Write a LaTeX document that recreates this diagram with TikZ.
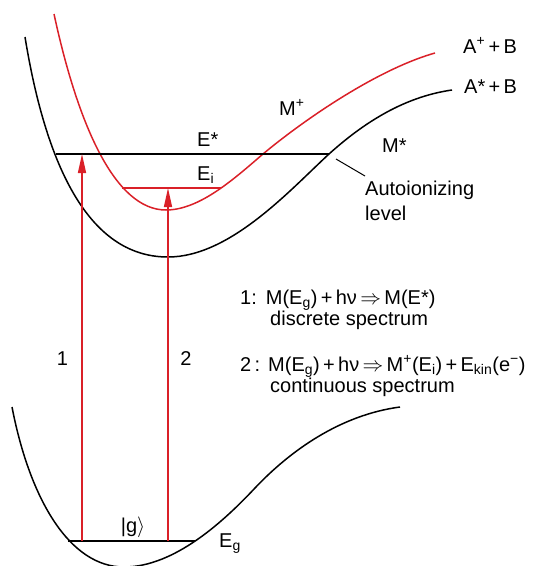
\documentclass[tikz,border=0pt]{standalone}
\usepackage{fontspec}
\setmainfont{Liberation Sans}
\usetikzlibrary{arrows.meta}
\definecolor{myred}{RGB}{218,32,40}
\begin{document}
\begin{tikzpicture}[x=1pt,y=-1pt,
  curve/.style={line width=1.5pt, line join=round},
  redc/.style={curve, myred},
  level/.style={line width=1.4pt},
  txt/.style={font=\fontsize{20}{24}\selectfont, inner sep=0pt},
  uparrow/.style={myred, line width=1.4pt, -{Triangle[length=19pt,width=8pt]}}]
\useasboundingbox (0,0) rectangle (551,566);
% M* curve
\draw[curve] (25,37) .. controls (50,190) and (100,257) .. (168,257)
  .. controls (230,257) and (290,190) .. (329,154)
  .. controls (370,117) and (410,96) .. (452,90);
% M+ curve
\draw[redc] (54,14) .. controls (78,125) and (115,210) .. (166,210)
  .. controls (200,210) and (235,178) .. (263,154)
  .. controls (300,123) and (375,70) .. (435,53);
% ground curve
\draw[curve] (12,407) .. controls (30,500) and (70,567) .. (124,567)
  .. controls (175,567) and (225,520) .. (255,488)
  .. controls (290,451) and (340,415) .. (400,407);
% levels
\coordinate (EsL) at (56,154); \coordinate (EsR) at (329,154);
\draw[level] (EsL) -- (EsR);
\coordinate (EiL) at (122,188); \coordinate (EiR) at (221,188);
\draw[level, myred] (EiL) -- (EiR);
\coordinate (EgL) at (68,541); \coordinate (EgR) at (195,541);
\draw[level] (EgL) -- (EgR);
% arrows
\coordinate (g1) at (82,541); \coordinate (s1) at (82,154);
\coordinate (g2) at (168,541); \coordinate (s2) at (168,188);
\draw[uparrow] (g1) -- (s1);
\draw[uparrow] (g2) -- (s2);
% leader
\coordinate (lead) at (336,159); \coordinate (leadend) at (365,176);
\draw[line width=1pt] (lead) -- (leadend);
% labels
\node[txt, anchor=base west] (Aplus) at (463,53) {A\textsuperscript{+}\,+\,B};
\node[txt, anchor=base west] (Astar) at (464,93) {A*\,+\,B};
\node[txt, anchor=base west] (Mplus) at (279,115) {M\textsuperscript{+}};
\node[txt, anchor=base west] (Mstar) at (382,152) {M*};
\node[txt, anchor=base west] (Estar) at (197,146) {E*};
\node[txt, anchor=base west] (Ei) at (197,180) {E\textsubscript{i}};
\node[txt, anchor=base west] (auto1) at (365,195) {Autoionizing};
\node[txt, anchor=base west] (auto2) at (365,220) {level};
\node[txt, anchor=base west] (eq1) at (240,304) {1:\hspace{9pt}M(E\textsubscript{g})\,+\,hν\,$\Rightarrow$\,M(E*)};
\node[txt, anchor=base west] (d1) at (270,325) {discrete spectrum};
\node[txt, anchor=base west] (eq2) at (240,371) {2\,:\hspace{8pt}M(E\textsubscript{g})\,+\,hν\,$\Rightarrow$\,M\textsuperscript{+}(E\textsubscript{i})\,+\,E\textsubscript{kin}(e\textsuperscript{−})};
\node[txt, anchor=base west] (d2) at (270,392) {continuous spectrum};
\node[txt] (l1) at (62.5,359) {1};
\node[txt] (l2) at (186,359) {2};
\node[txt, anchor=base] (gket) at (133,532) {|g$\rangle$};
\node[txt, anchor=base west] (Eg) at (219,547) {E\textsubscript{g}};
\end{tikzpicture}
\end{document}
